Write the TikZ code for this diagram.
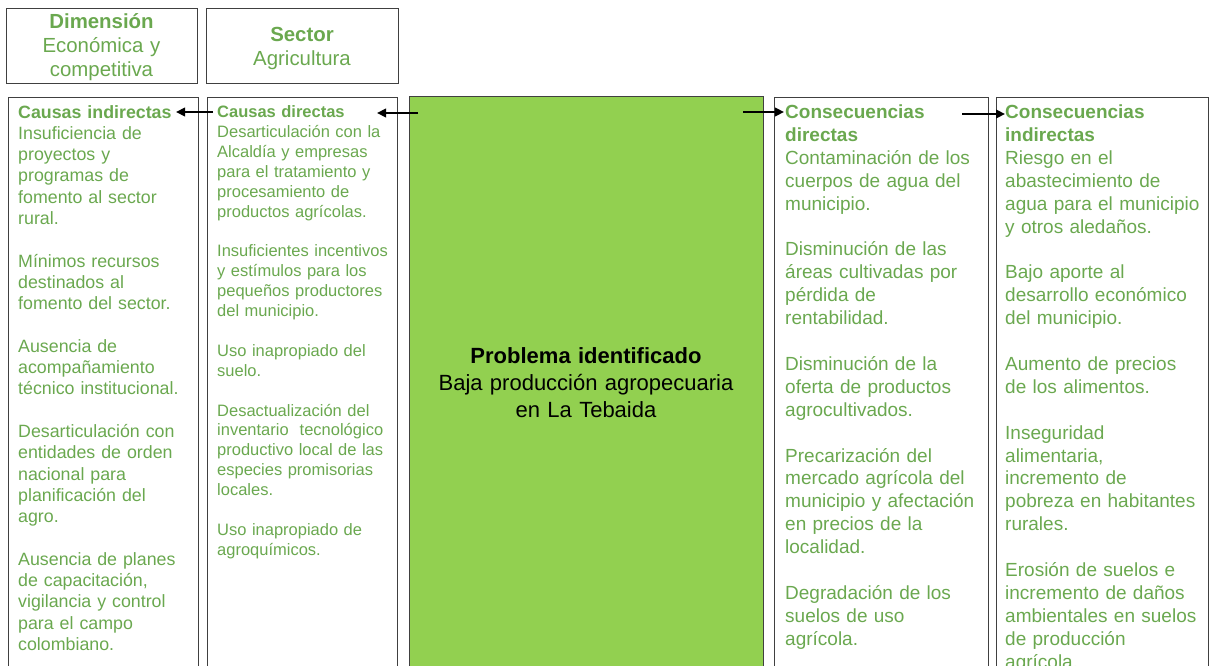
\documentclass[tikz,border=0pt]{standalone}
\usepackage{fontspec}
\setmainfont{Liberation Sans}
\usetikzlibrary{arrows.meta,calc}
\definecolor{tgreen}{RGB}{106,168,79}
\definecolor{bgreen}{RGB}{146,208,80}
\definecolor{framegray}{RGB}{64,64,64}
\begin{document}
\begin{tikzpicture}[x=1pt,y=-1pt,
  box/.style={draw=framegray,line width=1pt,inner sep=0pt,anchor=north west},
  headtext/.style={anchor=base,inner sep=0pt,align=center,text width=#1,text=tgreen,
    font=\fontsize{20.4}{24}\selectfont},
  coltext/.style={anchor=base west,inner sep=0pt,align=left,text width=225pt,text=tgreen},
  link/.style={line width=2.6pt,-{Triangle[length=9pt,width=8.5pt]}}]
\useasboundingbox (0,0) rectangle (1209,666);
\clip (0,0) rectangle (1209,666);
% boxes
\node[box,minimum width=191pt,minimum height=75pt] (dim) at (6,8) {};
\node[box,minimum width=192pt,minimum height=75pt] (sec) at (206,8) {};
\node[box,minimum width=190.5pt,minimum height=620pt] (c1) at (7.5,97) {};
\node[box,minimum width=190pt,minimum height=620pt] (c2) at (207,97) {};
\node[box,fill=bgreen,minimum width=353.5pt,minimum height=620pt] (prob) at (409,96) {};
\node[box,minimum width=214pt,minimum height=620pt] (c3) at (774,97) {};
\node[box,minimum width=212pt,minimum height=620pt] (c4) at (996,97) {};
% header texts
\node[headtext=190pt] (dimt) at (101.5,28.5) {\textbf{Dimensión}\\Económica y\\competitiva};
\node[headtext=190pt] (sect) at (302,41.5) {\textbf{Sector}\\Agricultura};
% column texts
\node[coltext,font=\fontsize{17.8}{21.3}\selectfont] (c1t) at (18,118) {%
\textbf{Causas indirectas}\\
Insuficiencia de\\proyectos y\\programas de\\fomento al sector\\rural.\\[\baselineskip]
Mínimos recursos\\destinados al\\fomento del sector.\\[\baselineskip]
Ausencia de\\acompañamiento\\técnico institucional.\\[\baselineskip]
Desarticulación con\\entidades de orden\\nacional para\\planificación del\\agro.\\[\baselineskip]
Ausencia de planes\\de capacitación,\\vigilancia y control\\para el campo\\colombiano.};
\node[coltext,font=\fontsize{16.5}{19.9}\selectfont] (c2t) at (217,117.5) {%
\textbf{Causas directas}\\
Desarticulación con la\\Alcaldía y empresas\\para el tratamiento y\\procesamiento de\\productos agrícolas.\\[\baselineskip]
Insuficientes incentivos\\y estímulos para los\\pequeños productores\\del municipio.\\[\baselineskip]
Uso inapropiado del\\suelo.\\[\baselineskip]
Desactualización del\\inventario\ \ tecnológico\\productivo local de las\\especies promisorias\\locales.\\[\baselineskip]
Uso inapropiado de\\agroquímicos.};
\node[coltext,font=\fontsize{19}{22.9}\selectfont] (c3t) at (785,118.5) {%
\textbf{Consecuencias}\\\textbf{directas}\\
Contaminación de los\\cuerpos de agua del\\municipio.\\[\baselineskip]
Disminución de las\\áreas cultivadas por\\pérdida de\\rentabilidad.\\[\baselineskip]
Disminución de la\\oferta de productos\\agrocultivados.\\[\baselineskip]
Precarización del\\mercado agrícola del\\municipio y afectación\\en precios de la\\localidad.\\[\baselineskip]
Degradación de los\\suelos de uso\\agrícola.};
\node[coltext,font=\fontsize{19}{22.9}\selectfont] (c4t) at (1005,118.5) {%
\textbf{Consecuencias}\\\textbf{indirectas}\\
Riesgo en el\\abastecimiento de\\agua para el municipio\\y otros aledaños.\\[\baselineskip]
Bajo aporte al\\desarrollo económico\\del municipio.\\[\baselineskip]
Aumento de precios\\de los alimentos.\\[\baselineskip]
Inseguridad\\alimentaria,\\incremento de\\pobreza en habitantes\\rurales.\\[\baselineskip]
Erosión de suelos e\\incremento de daños\\ambientales en suelos\\de producción\\agrícola.};
% central problem
\node[anchor=base,inner sep=0pt,align=center,text width=340pt,
  font=\fontsize{22}{27}\selectfont] (probt) at (586,363.5)
  {\textbf{Problema identificado}\\Baja producción agropecuaria\\en La Tebaida};
% arrow end points
\coordinate (a1s) at ($(prob.north west)+(9,17)$);
\coordinate (a1e) at ($(c2.north west)+(170,16)$);
\coordinate (a2s) at ($(c2.north west)+(6,15)$);
\coordinate (a2e) at ($(c1.north west)+(168.5,15)$);
\coordinate (a3s) at ($(prob.north east)+(-20.5,16)$);
\coordinate (a3e) at ($(c3.north west)+(10,15)$);
\coordinate (a4s) at ($(c3.north west)+(188,17)$);
\coordinate (a4e) at ($(c4.north west)+(9,17)$);
\draw[link] (a1s) -- (a1e);
\draw[link] (a2s) -- (a2e);
\draw[link] (a3s) -- (a3e);
\draw[link] (a4s) -- (a4e);
\end{tikzpicture}
\end{document}
